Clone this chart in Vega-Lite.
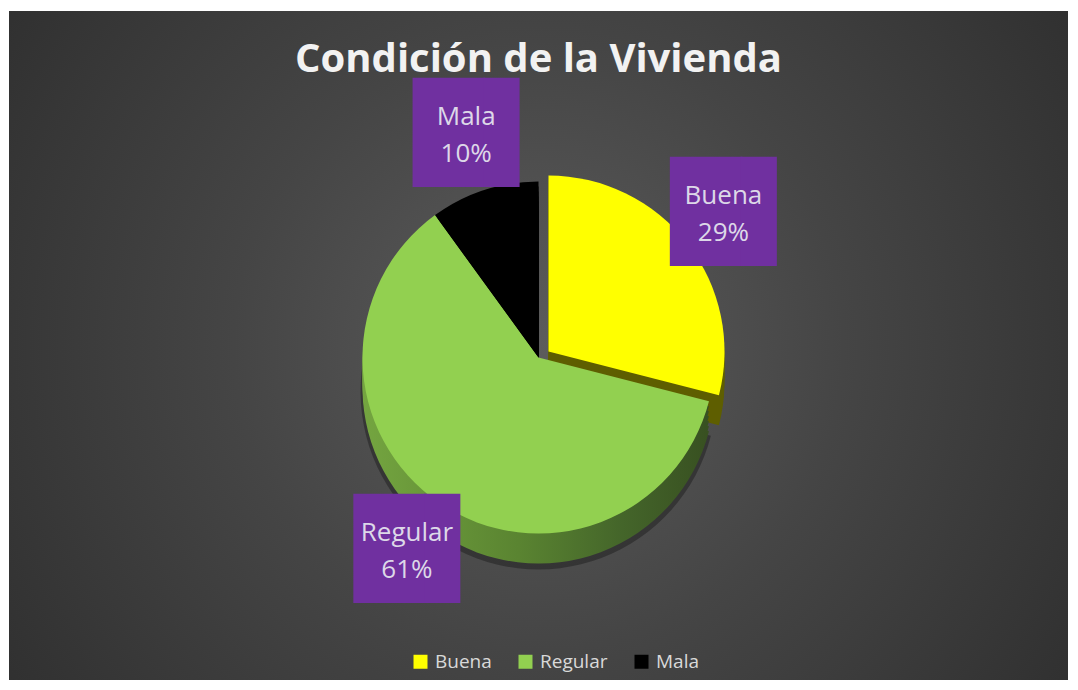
{
  "$schema": "https://vega.github.io/schema/vega-lite/v6.json",
  "width": 1059,
  "height": 669,
  "autosize": {"type": "none"},
  "padding": {"left": 9, "top": 11, "right": 10, "bottom": 10},
  "background": "#ffffff",
  "config": {"view": {"stroke": null}},
  "title": {
    "text": "Condición de la Vivienda",
    "font": "Open Sans",
    "fontSize": 40,
    "fontWeight": "bold",
    "color": "#f2f2f2",
    "anchor": "middle",
    "orient": "top",
    "frame": "group",
    "baseline": "alphabetic",
    "offset": -101
  },
  "data": {
    "values": [
      {"cat": "Buena", "value": 0.29, "ord": 1},
      {"cat": "Regular", "value": 0.61, "ord": 2},
      {"cat": "Mala", "value": 0.10, "ord": 3}
    ]
  },
  "transform": [
    {"stack": "value", "groupby": [], "sort": [{"field": "ord", "order": "ascending"}], "as": ["v0", "v1"]}
  ],
  "layer": [
    {
      "mark": {
        "type": "rect",
        "fill": {
          "gradient": "radial",
          "x1": 0.5, "y1": 0.5, "r1": 0,
          "x2": 0.5, "y2": 0.5, "r2": 0.72,
          "stops": [
            {"offset": 0, "color": "#5c5c5c"},
            {"offset": 0.4, "color": "#454545"},
            {"offset": 1, "color": "#282828"}
          ]
        }
      },
      "encoding": {}
    },
    {
      "transform": [{"filter": "datum.cat !== 'Buena'"}],
      "mark": {"type": "arc", "outerRadius": 178, "yOffset": 46, "fill": "#000000", "opacity": 0.3},
      "encoding": {
        "theta": {"field": "v0", "type": "quantitative", "scale": {"domain": [0, 1]}},
        "theta2": {"field": "v1"}
      }
    },
    {
      "transform": [{"filter": "datum.cat === 'Buena'"}],
      "mark": {"type": "arc", "outerRadius": 176, "xOffset": 10, "yOffset": 11},
      "encoding": {
        "theta": {"field": "v0", "type": "quantitative", "scale": {"domain": [0, 1]}},
        "theta2": {"field": "v1"},
        "fill": {"value": "#666600"}
      }
    },
    {
      "transform": [{"filter": "datum.cat === 'Buena'"}],
      "mark": {"type": "arc", "outerRadius": 176, "xOffset": 10, "yOffset": 16},
      "encoding": {
        "theta": {"field": "v0", "type": "quantitative", "scale": {"domain": [0, 1]}},
        "theta2": {"field": "v1"},
        "fill": {"value": "#666600"}
      }
    },
    {
      "transform": [{"filter": "datum.cat === 'Buena'"}],
      "mark": {"type": "arc", "outerRadius": 176, "xOffset": 10, "yOffset": 21},
      "encoding": {
        "theta": {"field": "v0", "type": "quantitative", "scale": {"domain": [0, 1]}},
        "theta2": {"field": "v1"},
        "fill": {"value": "#666600"}
      }
    },
    {
      "transform": [{"filter": "datum.cat === 'Buena'"}],
      "mark": {"type": "arc", "outerRadius": 176, "xOffset": 10, "yOffset": 26},
      "encoding": {
        "theta": {"field": "v0", "type": "quantitative", "scale": {"domain": [0, 1]}},
        "theta2": {"field": "v1"},
        "fill": {"value": "#666600"}
      }
    },
    {
      "transform": [{"filter": "datum.cat === 'Buena'"}],
      "mark": {"type": "arc", "outerRadius": 176, "xOffset": 10, "yOffset": 31},
      "encoding": {
        "theta": {"field": "v0", "type": "quantitative", "scale": {"domain": [0, 1]}},
        "theta2": {"field": "v1"},
        "fill": {"value": "#5e5e00"}
      }
    },
    {
      "transform": [{"filter": "datum.cat === 'Buena'"}],
      "mark": {"type": "arc", "outerRadius": 176, "xOffset": 10, "yOffset": 36},
      "encoding": {
        "theta": {"field": "v0", "type": "quantitative", "scale": {"domain": [0, 1]}},
        "theta2": {"field": "v1"},
        "fill": {"value": "#5e5e00"}
      }
    },
    {
      "transform": [{"filter": "datum.cat !== 'Buena'"}],
      "mark": {"type": "arc", "outerRadius": 176, "yOffset": 17},
      "encoding": {
        "theta": {"field": "v0", "type": "quantitative", "scale": {"domain": [0, 1]}},
        "theta2": {"field": "v1"},
        "fill": {
          "condition": {"test": "datum.cat === 'Mala'", "value": "#000000"},
          "value": {"gradient": "linear", "x1": 0, "y1": 0, "x2": 1, "y2": 0,
            "stops": [{"offset": 0, "color": "#74a540"}, {"offset": 0.45, "color": "#5a8431"}, {"offset": 0.75, "color": "#44652a"}, {"offset": 1, "color": "#385021"}]}
        }
      }
    },
    {
      "transform": [{"filter": "datum.cat !== 'Buena'"}],
      "mark": {"type": "arc", "outerRadius": 176, "yOffset": 22},
      "encoding": {
        "theta": {"field": "v0", "type": "quantitative", "scale": {"domain": [0, 1]}},
        "theta2": {"field": "v1"},
        "fill": {
          "condition": {"test": "datum.cat === 'Mala'", "value": "#000000"},
          "value": {"gradient": "linear", "x1": 0, "y1": 0, "x2": 1, "y2": 0,
            "stops": [{"offset": 0, "color": "#74a540"}, {"offset": 0.45, "color": "#5a8431"}, {"offset": 0.75, "color": "#44652a"}, {"offset": 1, "color": "#385021"}]}
        }
      }
    },
    {
      "transform": [{"filter": "datum.cat !== 'Buena'"}],
      "mark": {"type": "arc", "outerRadius": 176, "yOffset": 27},
      "encoding": {
        "theta": {"field": "v0", "type": "quantitative", "scale": {"domain": [0, 1]}},
        "theta2": {"field": "v1"},
        "fill": {
          "condition": {"test": "datum.cat === 'Mala'", "value": "#000000"},
          "value": {"gradient": "linear", "x1": 0, "y1": 0, "x2": 1, "y2": 0,
            "stops": [{"offset": 0, "color": "#74a540"}, {"offset": 0.45, "color": "#5a8431"}, {"offset": 0.75, "color": "#44652a"}, {"offset": 1, "color": "#385021"}]}
        }
      }
    },
    {
      "transform": [{"filter": "datum.cat !== 'Buena'"}],
      "mark": {"type": "arc", "outerRadius": 176, "yOffset": 32},
      "encoding": {
        "theta": {"field": "v0", "type": "quantitative", "scale": {"domain": [0, 1]}},
        "theta2": {"field": "v1"},
        "fill": {
          "condition": {"test": "datum.cat === 'Mala'", "value": "#000000"},
          "value": {"gradient": "linear", "x1": 0, "y1": 0, "x2": 1, "y2": 0,
            "stops": [{"offset": 0, "color": "#74a540"}, {"offset": 0.45, "color": "#5a8431"}, {"offset": 0.75, "color": "#44652a"}, {"offset": 1, "color": "#385021"}]}
        }
      }
    },
    {
      "transform": [{"filter": "datum.cat !== 'Buena'"}],
      "mark": {"type": "arc", "outerRadius": 176, "yOffset": 37},
      "encoding": {
        "theta": {"field": "v0", "type": "quantitative", "scale": {"domain": [0, 1]}},
        "theta2": {"field": "v1"},
        "fill": {
          "condition": {"test": "datum.cat === 'Mala'", "value": "#000000"},
          "value": {"gradient": "linear", "x1": 0, "y1": 0, "x2": 1, "y2": 0,
            "stops": [{"offset": 0, "color": "#74a540"}, {"offset": 0.45, "color": "#5a8431"}, {"offset": 0.75, "color": "#44652a"}, {"offset": 1, "color": "#385021"}]}
        }
      }
    },
    {
      "transform": [{"filter": "datum.cat !== 'Buena'"}],
      "mark": {"type": "arc", "outerRadius": 176, "yOffset": 42},
      "encoding": {
        "theta": {"field": "v0", "type": "quantitative", "scale": {"domain": [0, 1]}},
        "theta2": {"field": "v1"},
        "fill": {
          "condition": {"test": "datum.cat === 'Mala'", "value": "#000000"},
          "value": {"gradient": "linear", "x1": 0, "y1": 0, "x2": 1, "y2": 0,
            "stops": [{"offset": 0, "color": "#74a540"}, {"offset": 0.45, "color": "#5a8431"}, {"offset": 0.75, "color": "#44652a"}, {"offset": 1, "color": "#385021"}]}
        }
      }
    },
    {
      "transform": [{"filter": "datum.cat !== 'Buena'"}],
      "mark": {"type": "arc", "outerRadius": 176, "yOffset": 12},
      "encoding": {
        "theta": {"field": "v0", "type": "quantitative", "scale": {"domain": [0, 1]}},
        "theta2": {"field": "v1"},
        "fill": {
          "field": "cat", "type": "nominal",
          "scale": {"domain": ["Buena", "Regular", "Mala"], "range": ["#ffff00", "#92d050", "#000000"]},
          "legend": {
            "title": null, "orient": "none", "legendX": 402, "legendY": 641,
            "direction": "horizontal", "symbolType": "square", "symbolSize": 196,
            "symbolStrokeWidth": 0, "labelFont": "Open Sans", "labelFontSize": 19,
            "labelColor": "#d9d9d9", "columnPadding": 24, "labelOffset": 5
          }
        }
      }
    },
    {
      "transform": [{"filter": "datum.cat === 'Buena'"}],
      "mark": {"type": "arc", "outerRadius": 176, "xOffset": 10, "yOffset": 6},
      "encoding": {
        "theta": {"field": "v0", "type": "quantitative", "scale": {"domain": [0, 1]}},
        "theta2": {"field": "v1"},
        "fill": {"field": "cat", "type": "nominal"}
      }
    },
    {
      "mark": {"type": "text", "radius": 234, "yOffset": 13, "dx": 18, "font": "DejaVu Sans", "fontSize": 92, "align": "center", "baseline": "middle", "fill": "#7030a0"},
      "encoding": {
        "theta": {"field": "value", "type": "quantitative", "stack": true, "scale": {"domain": [0, 1]}},
        "order": {"field": "ord", "type": "quantitative"},
        "text": {"value": "█▌"}
      }
    },
    {
      "mark": {"type": "text", "radius": 234, "yOffset": 12, "dy": -18, "font": "Open Sans", "fontSize": 26, "align": "center", "baseline": "middle", "fill": "#ddd8e8"},
      "encoding": {
        "theta": {"field": "value", "type": "quantitative", "stack": true, "scale": {"domain": [0, 1]}},
        "order": {"field": "ord", "type": "quantitative"},
        "text": {"field": "cat"}
      }
    },
    {
      "mark": {"type": "text", "radius": 234, "yOffset": 12, "dy": 19, "font": "Open Sans", "fontSize": 26, "align": "center", "baseline": "middle", "fill": "#ddd8e8"},
      "encoding": {
        "theta": {"field": "value", "type": "quantitative", "stack": true, "scale": {"domain": [0, 1]}},
        "order": {"field": "ord", "type": "quantitative"},
        "text": {"field": "value", "format": ".0%"}
      }
    }
  ]
}
